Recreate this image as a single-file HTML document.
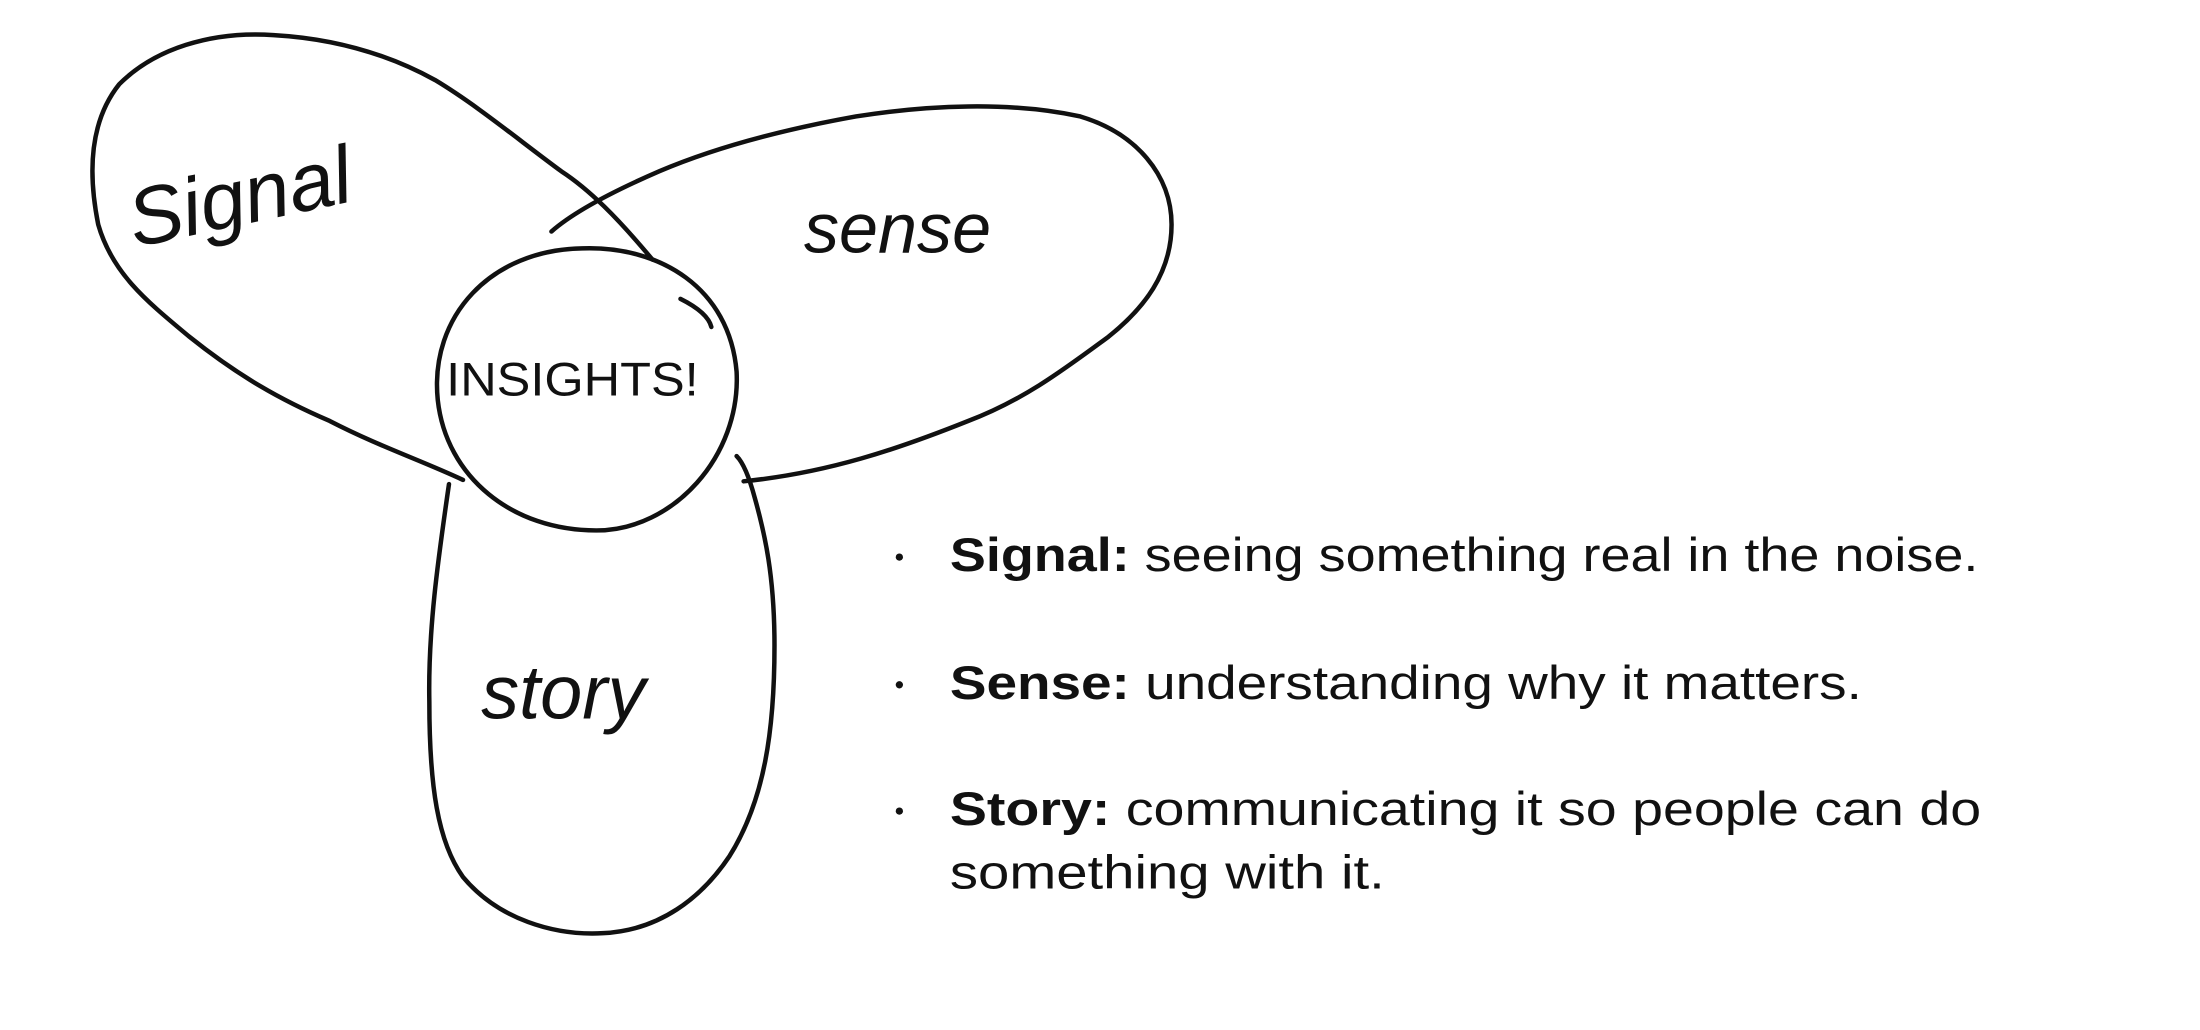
<!DOCTYPE html>
<html><head><meta charset="utf-8"><style>
html,body{margin:0;padding:0;background:#fff;}
svg{display:block}
</style></head><body>
<svg width="2200" height="1030" viewBox="0 0 1568 734" preserveAspectRatio="none" xmlns="http://www.w3.org/2000/svg">
<g fill="none" stroke="#111" stroke-width="3.2" stroke-linecap="round" stroke-linejoin="round">
<path d="M465,185 C440,155 420,135 400,122 C370,100 340,75 310,57 C270,35 230,27 195,25 C150,22 110,35 85,60 C65,85 62,120 70,160 C80,195 105,215 135,240 C170,268 200,285 235,300 C270,318 300,328 330,342"/>
<path d="M393,165 C410,150 440,135 470,122 C510,105 560,92 610,83 C660,75 720,72 770,83 C810,95 835,125 835,160 C835,195 815,220 790,240 C760,262 730,285 690,300 C640,320 590,337 530,343"/>
<path d="M415,177 C470,175 520,205 525,265 C528,325 480,378 425,378 C365,378 318,340 312,285 C306,225 350,178 415,177 Z"/>
<path d="M485,213 C495,218 505,225 507,233"/>
<path d="M320,345 C312,400 305,450 306,500 C306,560 312,600 330,625 C355,655 395,667 430,665 C470,663 500,640 520,610 C545,570 552,520 552,460 C552,410 545,380 538,355 C534,340 530,330 525,325"/>
</g>
<g font-family="'Liberation Sans',sans-serif" fill="#111">
<text x="88" y="160" font-size="58" font-style="italic" transform="rotate(-12 170 130)">Signal</text>
<text x="573" y="180" font-size="50" font-style="italic">sense</text>
<text x="318" y="282" font-size="34" textLength="180" lengthAdjust="spacingAndGlyphs">INSIGHTS!</text>
<text x="343" y="512" font-size="54" font-style="italic">story</text>
</g>
<g font-family="'Liberation Sans',sans-serif" fill="#111" font-size="34">
<circle cx="641" cy="397" r="2.6"/>
<circle cx="641" cy="488" r="2.6"/>
<circle cx="641" cy="578" r="2.6"/>
<text x="677" y="407" textLength="733" lengthAdjust="spacingAndGlyphs"><tspan font-weight="bold">Signal:</tspan> seeing something real in the noise.</text>
<text x="677" y="498" textLength="650" lengthAdjust="spacingAndGlyphs"><tspan font-weight="bold">Sense:</tspan> understanding why it matters.</text>
<text x="677" y="588" textLength="735" lengthAdjust="spacingAndGlyphs"><tspan font-weight="bold">Story:</tspan> communicating it so people can do</text>
<text x="677" y="633" textLength="310" lengthAdjust="spacingAndGlyphs">something with it.</text>
</g>
</svg>
</body></html>
